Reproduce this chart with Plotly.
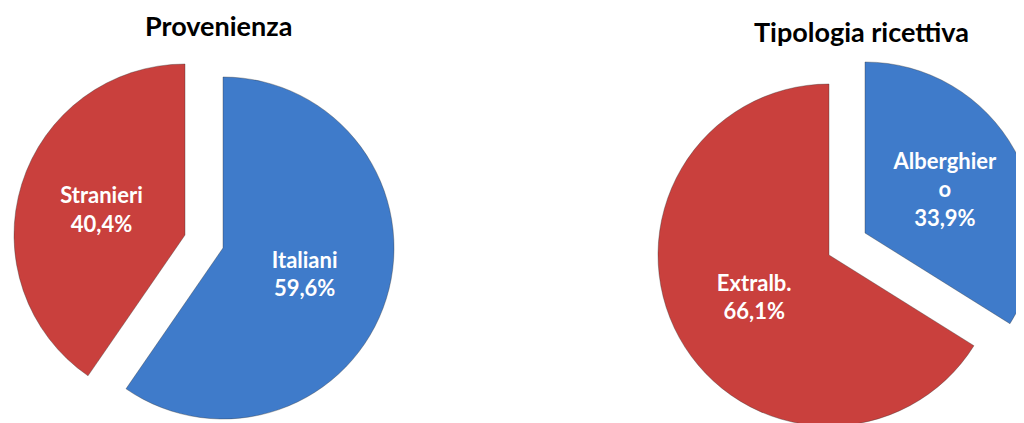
import plotly.graph_objects as go

# Data
prov_labels = ["Italiani", "Stranieri"]
prov_values = [59.6, 40.4]
prov_title = "Provenienza"

tipo_labels = ["Alberghiero", "Extralb."]
tipo_text = ["Alberghier<br>o", "Extralb."]
tipo_values = [33.9, 66.1]
tipo_title = "Tipologia ricettiva"

BLUE = "#3F7BCA"
RED = "#C9403D"
CLEAR = "rgba(0,0,0,0)"
EDGE = "rgba(50,50,50,0.35)"
W, H = 1060, 440   # page has an 8px body margin; the canvas overflows the window slightly
R = 171  # pie radius in px


def dom(cx, cy):
    return dict(x=[(cx - R) / W, (cx + R) / W],
                y=[1 - (cy + R) / H, 1 - (cy - R) / H])


def slice_trace(labels, values, text, idx, color, cx, cy):
    """One exploded slice: the full pie is drawn, only slice idx is visible."""
    n = len(values)
    colors = [color if i == idx else CLEAR for i in range(n)]
    lines = [EDGE if i == idx else CLEAR for i in range(n)]
    tmpl = ["%{text}<br>%{percent:.1%}" if i == idx else " " for i in range(n)]
    return go.Pie(
        labels=labels, values=values, text=text,
        sort=False, direction="clockwise", rotation=0,
        marker=dict(colors=colors, line=dict(color=lines, width=1)),
        texttemplate=tmpl, textposition="inside",
        insidetextorientation="horizontal",
        textfont=dict(family="Lato", size=22, color="white", weight="bold"),
        domain=dom(cx, cy), showlegend=False, hoverinfo="skip",
    )


fig = go.Figure()
# Provenienza
fig.add_trace(slice_trace(prov_labels, prov_values, prov_labels, 0, BLUE, 215, 240))
fig.add_trace(slice_trace(prov_labels, prov_values, prov_labels, 1, RED, 177, 227))
# Tipologia ricettiva
fig.add_trace(slice_trace(tipo_labels, tipo_values, tipo_text, 0, BLUE, 857, 225))
fig.add_trace(slice_trace(tipo_labels, tipo_values, tipo_text, 1, RED, 821, 247))

fig.update_layout(
    width=W, height=H,
    margin=dict(l=0, r=0, t=0, b=0),
    paper_bgcolor="white", plot_bgcolor="white",
    separators=",.",
    annotations=[
        dict(text=prov_title, x=210 / W, y=1, xref="paper", yref="paper",
             showarrow=False, xanchor="center", yanchor="top", borderpad=0,
             font=dict(family="Lato", size=27, color="black", weight="bold")),
        dict(text=tipo_title, x=853 / W, y=1 - 6 / H, xref="paper", yref="paper",
             showarrow=False, xanchor="center", yanchor="top", borderpad=0,
             font=dict(family="Lato", size=27, color="black", weight="bold")),
    ],
)

fig.write_html("out.html")
